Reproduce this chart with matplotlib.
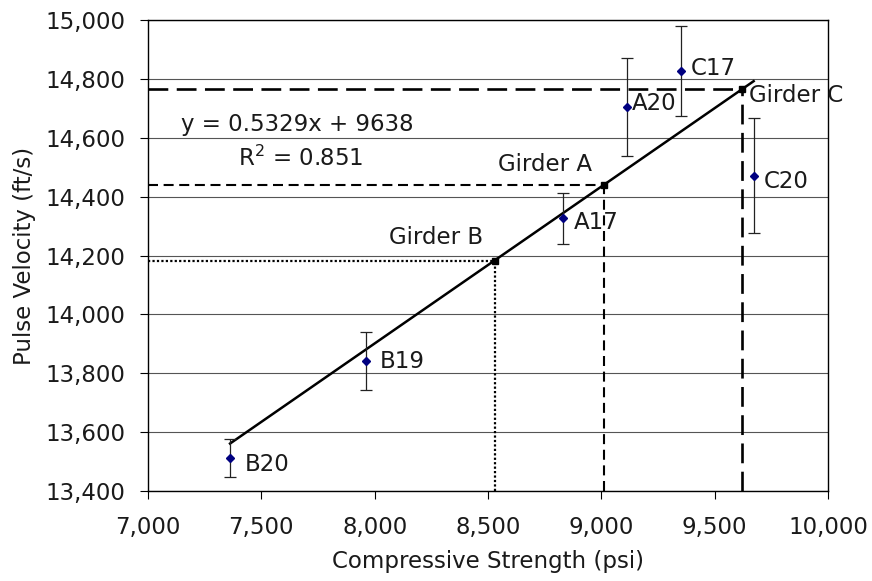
import matplotlib
matplotlib.use("Agg")
import matplotlib.pyplot as plt
from matplotlib.ticker import MultipleLocator, StrMethodFormatter

plt.rcParams["font.family"] = ["DejaVu Sans"]
plt.rcParams["mathtext.default"] = "regular"

FONT_SIZE = 16.5
TEXT_COLOR = "#1a1a1a"

# core samples: compressive strength vs. pulse velocity (mean +/- error)
sample_names = ["B20", "B19", "A17", "A20", "C17", "C20"]
strength_psi = [7362, 7963, 8832, 9112, 9351, 9672]
velocity_fps = [13513, 13841, 14326, 14705, 14827, 14471]
velocity_err = [65, 99, 87, 166, 154, 196]

# linear fit reported on the chart
slope = 0.5329
intercept = 9638
r_squared = 0.851

# girder average pulse velocities mapped onto the fit
girder_names = ["Girder A", "Girder B", "Girder C"]
girder_strength = [9010, 8530, 9620]
girder_velocity = [14440, 14180, 14765]

fig = plt.figure(figsize=(8.72, 5.81), dpi=100)
ax = fig.add_axes([148 / 872, 1 - 491 / 581, 680 / 872, 471 / 581])

ax.set_xlim(7000, 10000)
ax.set_ylim(13400, 15000)
ax.xaxis.set_major_locator(MultipleLocator(500))
ax.yaxis.set_major_locator(MultipleLocator(200))
ax.xaxis.set_major_formatter(StrMethodFormatter("{x:,.0f}"))
ax.yaxis.set_major_formatter(StrMethodFormatter("{x:,.0f}"))
ax.grid(True, axis="y", color="#555555", linewidth=0.8)
ax.set_axisbelow(True)
for side in ax.spines.values():
    side.set_linewidth(1.0)
    side.set_color("black")
ax.tick_params(direction="out", length=6, width=0.8, labelsize=FONT_SIZE,
               labelcolor=TEXT_COLOR, pad=12)
ax.tick_params(axis="y", pad=10)

# reference lines from each girder point back to the axes
styles = {
    "Girder A": dict(linestyle=(0, (4.8, 2.7)), linewidth=1.5),
    "Girder B": dict(linestyle=(0, (1, 1)), linewidth=1.6),
    "Girder C": dict(linestyle=(0, (7.5, 3.2)), linewidth=1.9),
}
for name, gx, gy in zip(girder_names, girder_strength, girder_velocity):
    st = styles[name]
    ax.plot([7000, gx], [gy, gy], color="black", dash_capstyle="butt", **st, zorder=3)
    ax.plot([gx, gx], [13400, gy], color="black", dash_capstyle="butt", **st, zorder=3)

# trend line over the range of the samples
x0, x1 = min(strength_psi), max(strength_psi)
ax.plot([x0, x1], [slope * x0 + intercept, slope * x1 + intercept],
        color="black", linewidth=1.8, zorder=4)

ax.errorbar(strength_psi, velocity_fps, yerr=velocity_err, fmt="D",
            color="#000080", markersize=4, ecolor="#222222", elinewidth=0.9,
            capsize=4, capthick=0.9, zorder=5)

ax.plot(girder_strength, girder_velocity, "s", color="black", markersize=5, zorder=6)

label_offsets = {
    "B20": (10.8, -5), "B19": (9.4, 0), "A17": (7.9, -2.9),
    "A20": (3.6, 2.2), "C17": (7.2, 1.4), "C20": (7.2, -4.3),
}
for name, sx, sy in zip(sample_names, strength_psi, velocity_fps):
    ax.annotate(name, (sx, sy), xytext=label_offsets[name], textcoords="offset points",
                ha="left", va="center", fontsize=FONT_SIZE, color=TEXT_COLOR, zorder=7)

girder_offsets = {
    "Girder A": ((-42, 14.4), "center"),
    "Girder B": ((-42.5, 17.4), "center"),
    "Girder C": ((5, -4.3), "left"),
}
for name, gx, gy in zip(girder_names, girder_strength, girder_velocity):
    off, ha = girder_offsets[name]
    ax.annotate(name, (gx, gy), xytext=off, textcoords="offset points",
                ha=ha, va="center", fontsize=FONT_SIZE, color=TEXT_COLOR, zorder=7)

ax.text(0.048, 0.779, f"y = {slope}x + {intercept}", transform=ax.transAxes,
        ha="left", va="center", fontsize=FONT_SIZE, color=TEXT_COLOR)
ax.text(0.132, 0.706, f"R$^2$ = {r_squared}", transform=ax.transAxes,
        ha="left", va="center", fontsize=FONT_SIZE, color=TEXT_COLOR)

ax.set_xlabel("Compressive Strength (psi)", fontsize=FONT_SIZE, color=TEXT_COLOR, labelpad=8)
ax.set_ylabel("Pulse Velocity (ft/s)", fontsize=FONT_SIZE, color=TEXT_COLOR, labelpad=7)

fig.savefig("out.png", dpi=100)
